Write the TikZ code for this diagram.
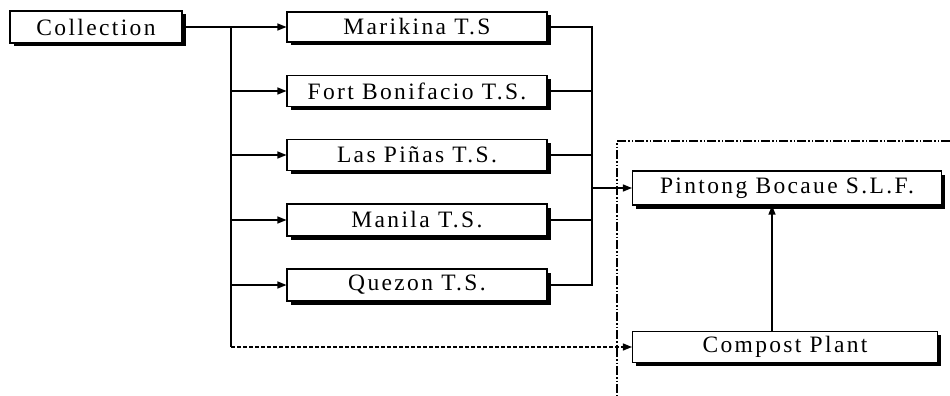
\documentclass[tikz,border=0pt]{standalone}
\usepackage{fontspec}
\setmainfont{Liberation Serif}[LetterSpace=10]
\usetikzlibrary{arrows.meta,shadows}
\begin{document}
\begin{tikzpicture}[x=1pt,y=-1pt,
  box/.style={draw, line width=1.1pt, fill=white, inner sep=0pt,
    font=\fontsize{23.5}{26}\selectfont,
    drop shadow={shadow xshift=3.5pt, shadow yshift=-3.5pt, opacity=1, fill=black}},
  conn/.style={line width=1.3pt},
  arr/.style={conn,-{Triangle[length=9pt,width=7pt]}},
  frameline/.style={line width=1.2pt, dash pattern=on 9pt off 2pt on 1.5pt off 2pt on 1.5pt off 2pt},
]
\useasboundingbox (0,0) rectangle (950,396);

% frame
\draw[frameline] (950,141) -- (617,141) -- (617,396);

% nodes
\node[box, minimum width=172pt, minimum height=32pt] (col) at (96,27) {Collection};
\node[box, minimum width=260pt, minimum height=30pt] (mar) at (417,27) {Marikina T.S};
\node[box, minimum width=260pt, minimum height=31pt] (fort) at (417,91) {Fort Bonifacio T.S.};
\node[box, minimum width=260pt, minimum height=31pt] (las) at (417,155) {Las Piñas T.S.};
\node[box, minimum width=260pt, minimum height=32pt] (man) at (417,220) {Manila T.S.};
\node[box, minimum width=260pt, minimum height=32pt] (que) at (417,285) {Quezon T.S.};
\node[box, minimum width=309pt, minimum height=34pt] (pin) at (787,188) {Pintong Bocaue S.L.F.};
\node[box, minimum width=305pt, minimum height=31pt] (comp) at (785,347) {Compost Plant};

% coordinates
\coordinate (t0) at (231,27);
\coordinate (t1) at (231,347);
\coordinate (bus) at (592,0);
\coordinate (v) at (772,0);

% left trunk
\draw[arr] (col.east) -- (mar.west);
\draw[conn, line width=2pt] (t0) -- (t1);
\draw[arr] (t0 |- fort.west) -- (fort.west);
\draw[arr] (t0 |- las.west) -- (las.west);
\draw[arr] (t0 |- man.west) -- (man.west);
\draw[arr] (t0 |- que.west) -- (que.west);
\draw[arr, dash pattern=on 4pt off 2pt] (t1) -- (comp.west);

% right bus
\draw[conn] (mar.east) -- (bus |- mar.east) -- (bus |- que.east) -- (que.east);
\draw[conn] (fort.east) -- (bus |- fort.east);
\draw[conn] (las.east) -- (bus |- las.east);
\draw[conn] (man.east) -- (bus |- man.east);
\draw[arr] (bus |- pin.west) -- (pin.west);

% compost to landfill
\draw[arr] (v |- comp.north) -- (v |- pin.south);
\end{tikzpicture}
\end{document}
